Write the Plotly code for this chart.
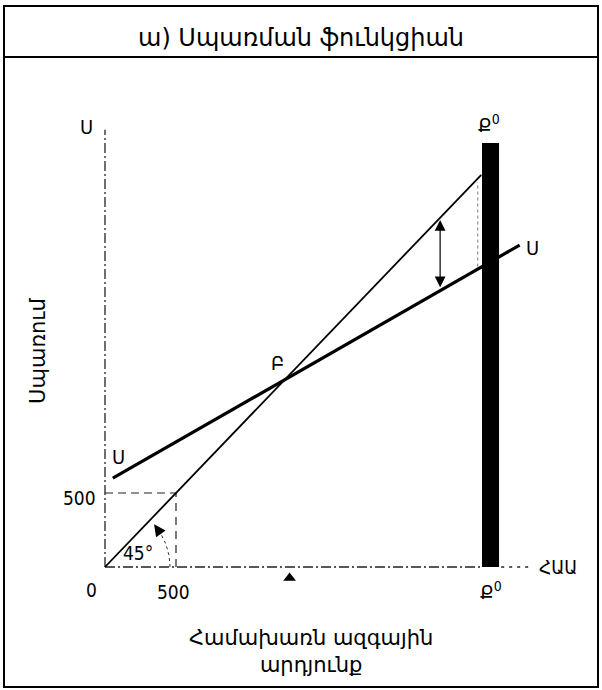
import numpy as np
import plotly.graph_objects as go

# data
line45_x = [0, 2650]
line45_y = [0, 2650]
cons_x = [55, 2920]
cons_y = [600, 2175]
eq_x, eq_y = 1300, 1295          # point Բ
bar_x = [2715]
bar_top = [2865]
bar_w = [120]
tick_vals = [0, 500]
gap_x = 2360                      # double arrow between the lines
gap_top, gap_bot = 2345, 1880

FONT = "DejaVu Sans Condensed, DejaVu Sans, sans-serif"
FONT_W = "DejaVu Sans, sans-serif"
W, H = 602, 690
X0, SX = 105, 0.142               # px of x=0, px per unit
Y0, SY = 567, 0.148

fig = go.Figure()

# axes drawn by hand (dash-dot)
fig.add_trace(go.Scatter(x=[0, 0], y=[0, 2955], mode="lines",
                         line=dict(color="#222", width=1.3, dash="10px,3px,2px,3px")))
fig.add_trace(go.Scatter(x=[0, 2650], y=[0, 0], mode="lines",
                         line=dict(color="#222", width=1.3, dash="10px,3px,2px,3px")))
fig.add_trace(go.Scatter(x=[2790, 2990], y=[0, 0], mode="lines",
                         line=dict(color="#222", width=1.3, dash="3px,5px")))

# 500 guide lines
fig.add_trace(go.Scatter(x=[0, tick_vals[1]], y=[tick_vals[1]] * 2, mode="lines",
                         line=dict(color="#222", width=1.2, dash="8px,5px")))
fig.add_trace(go.Scatter(x=[tick_vals[1]] * 2, y=[0, tick_vals[1]], mode="lines",
                         line=dict(color="#222", width=1.2, dash="8px,6px")))

# 45 degree line and consumption line
fig.add_trace(go.Scatter(x=line45_x, y=line45_y, mode="lines",
                         line=dict(color="black", width=1.8)))
fig.add_trace(go.Scatter(x=cons_x, y=cons_y, mode="lines",
                         line=dict(color="black", width=3.2)))

# faint dotted line left of the bar
fig.add_trace(go.Scatter(x=[2625, 2625], y=[2030, 2600], mode="lines",
                         line=dict(color="#777", width=1, dash="dot")))

# potential output bar
fig.add_trace(go.Bar(x=bar_x, y=bar_top, width=bar_w, marker_color="black",
                     marker_line_width=0))

# marker under the axis at equilibrium output
fig.add_trace(go.Scatter(x=[eq_x], y=[-75], mode="markers",
                         marker=dict(symbol="triangle-up", size=11, color="black")))

# 45 degree arc (dotted)
r = 65
ang = np.linspace(0, np.radians(34), 20)
fig.add_trace(go.Scatter(x=r * np.cos(ang) / SX, y=r * np.sin(ang) / SY, mode="lines",
                         line=dict(color="#333", width=1, dash="dot")))

ann = []
a1, a2 = np.radians(30), np.radians(41)
ann.append(dict(x=r * np.cos(a2) / SX, y=r * np.sin(a2) / SY,
                ax=r * np.cos(a1) / SX, ay=r * np.sin(a1) / SY,
                axref="x", ayref="y", xref="x", yref="y", text="",
                showarrow=True, arrowhead=2, arrowsize=1.8, arrowwidth=1.3,
                arrowcolor="black"))
ann.append(dict(x=gap_x, y=gap_top, ax=gap_x, ay=gap_bot, axref="x", ayref="y",
                xref="x", yref="y", text="", showarrow=True, arrowhead=2,
                startarrowhead=2, arrowside="end+start", arrowsize=1.8,
                startarrowsize=1.8, arrowwidth=1.2, arrowcolor="black"))


def label(txt, x, y, size=20, family=FONT, **kw):
    d = dict(x=x, y=y, xref="x", yref="y", text=txt, showarrow=False,
             font=dict(family=family, size=size, color="black"))
    d.update(kw)
    ann.append(d)


label("Ս", -127, 2973)
label("Ք<sup>0</sup>", 2705, 2990)
label("Ս", 3010, 2155)
label("Ս", 95, 743)
label("Բ", 1218, 1378)
label(str(tick_vals[1]), -50, 466, xanchor="right", size=19)
label(str(tick_vals[0]), -92, -158, size=19)
label(str(tick_vals[1]), tick_vals[1] - 20, -170, size=19)
label("Ք<sup>0</sup>", 2720, -165)
label("ՀԱԱ", 3040, 0, xanchor="left", size=19)
label("45°", 235, 95, size=19)
label("Սպառում", -472, 1460, size=21, family=FONT_W, textangle=-90)
label("Համախառն ազգային<br>արդյունք", 1450, -570, size=21, family=FONT_W,
      yanchor="middle")

# title
ann.append(dict(x=0.5, y=1 - 38 / H, xref="paper", yref="paper", yanchor="middle",
                text="ա) Սպառման ֆունկցիան", showarrow=False,
                font=dict(family=FONT_W, size=24, color="black")))

shapes = [
    dict(type="rect", xref="paper", yref="paper", x0=4 / W, x1=598 / W,
         y0=1 - 687 / H, y1=1 - 6 / H, line=dict(color="black", width=2)),
    dict(type="line", xref="paper", yref="paper", x0=4 / W, x1=598 / W,
         y0=1 - 57 / H, y1=1 - 57 / H, line=dict(color="black", width=2)),
]

fig.update_layout(
    width=W, height=H, margin=dict(l=0, r=0, t=0, b=0),
    paper_bgcolor="white", plot_bgcolor="white", showlegend=False,
    xaxis=dict(range=[-X0 / SX, (W - X0) / SX], visible=False, fixedrange=True),
    yaxis=dict(range=[-(H - Y0) / SY, Y0 / SY], visible=False, fixedrange=True),
    annotations=ann, shapes=shapes,
)
fig.write_html("out.html", config={"displayModeBar": False},
               post_script="document.body.style.margin='0';")
